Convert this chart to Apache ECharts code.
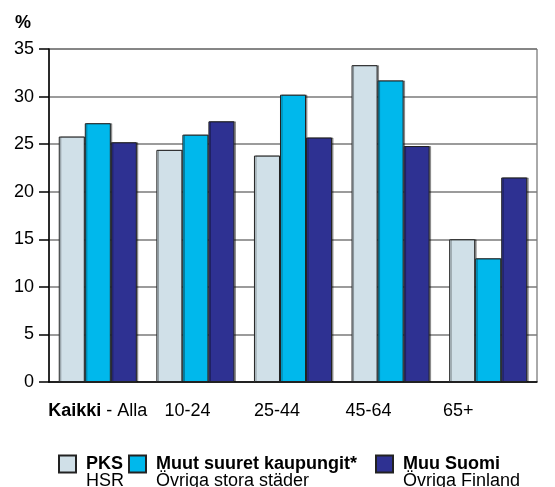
<!DOCTYPE html>
<html>
<head>
<meta charset="utf-8">
<script src="https://cdn.jsdelivr.net/npm/echarts@6/dist/echarts.min.js"></script>
<style>
  html, body { margin: 0; padding: 0; background: #fff; }
  #chart { width: 555px; height: 487px; }
</style>
</head>
<body>
<div id="chart"></div>
<script>
// data
const categories = ["Kaikki - Alla", "10-24", "25-44", "45-64", "65+"];
const seriesNames = ["PKS", "Muut suuret kaupungit*", "Muu Suomi"];
const seriesSubNames = ["HSR", "Övriga stora städer", "Övriga Finland"];
const pks = [25.8, 24.4, 23.8, 33.3, 15.0];
const muutSuuret = [27.2, 26.0, 30.2, 31.7, 13.0];
const muuSuomi = [25.2, 27.4, 25.7, 24.8, 21.5];
const yTicks = [0, 5, 10, 15, 20, 25, 30, 35];

const FONT = "Liberation Sans, Arial, sans-serif";
const FS = 18;
const colors = ["#d0e0e8", "#00b8ec", "#2e3192"];
// the x labels in the original drift left of the bar groups
const labelPad = [0, 16, 32, 44, 60];
const legendLeft = [58, 128, 375];

const chart = echarts.init(document.getElementById("chart"));

const barStyle = (c) => ({
	color: c,
	borderColor: "#222",
	borderWidth: 1,
	shadowColor: "rgba(0,0,0,0.35)",
	shadowOffsetX: 1.5,
	shadowOffsetY: 0,
	shadowBlur: 0
});

const seriesData = [pks, muutSuuret, muuSuomi];

const xRich = {};
labelPad.forEach((p, i) => {
	xRich["n" + i] = { fontSize: FS, fontFamily: FONT, color: "#000", padding: [0, p, 0, 0] };
});
xRich.b = { fontSize: FS, fontFamily: FONT, color: "#000", fontWeight: "bold" };
xRich.r = { fontSize: FS, fontFamily: FONT, color: "#000" };

const legends = seriesNames.map((name, i) => ({
	data: [name],
	left: legendLeft[i],
	top: 438,
	padding: 0,
	icon: "rect",
	itemWidth: 17,
	itemHeight: 17,
	selectedMode: false,
	formatter: (n) => "{s| }\n{b|" + n + "}\n{r|" + seriesSubNames[seriesNames.indexOf(n)] + "}",
	textStyle: {
		rich: {
			s: { fontSize: FS, lineHeight: 17, fontFamily: FONT },
			b: { fontSize: FS, lineHeight: 17, fontFamily: FONT, fontWeight: "bold", color: "#000", padding: [0, 0, 0, 5] },
			r: { fontSize: FS, lineHeight: 17, fontFamily: FONT, color: "#000", padding: [0, 0, 0, 5] }
		}
	}
}));

chart.setOption({
	animation: false,
	backgroundColor: "#fff",
	title: {
		text: "%",
		left: 10,
		top: 9,
		textStyle: { fontSize: FS, fontWeight: "bold", fontFamily: FONT, color: "#000" }
	},
	legend: legends,
	grid: {
		left: 49, right: 18, top: 49, bottom: 105,
		show: true,
		borderColor: "#555",
		borderWidth: 1,
		backgroundColor: "transparent"
	},
	xAxis: {
		type: "category",
		data: categories,
		axisLine: { lineStyle: { color: "#000", width: 1.5 } },
		axisTick: { show: false },
		axisLabel: {
			margin: 20,
			interval: 0,
			formatter: (v, idx) => {
				if (v.startsWith("Kaikki")) {
					return "{b|Kaikki}{r|" + v.slice(6) + "}";
				}
				return "{n" + idx + "|" + v + "}";
			},
			rich: xRich
		}
	},
	yAxis: {
		type: "value",
		min: yTicks[0],
		max: yTicks[yTicks.length - 1],
		interval: yTicks[1] - yTicks[0],
		axisLine: { show: true, lineStyle: { color: "#000", width: 1.5 } },
		axisTick: { show: true, length: 10, lineStyle: { color: "#000", width: 1.5 } },
		axisLabel: { margin: 15, fontSize: FS, fontFamily: FONT, color: "#000" },
		splitLine: { show: true, lineStyle: { color: "#7a7a7a", width: 1.5 } }
	},
	series: seriesNames.map((name, i) => ({
		name: name,
		type: "bar",
		data: seriesData[i],
		barGap: "0%",
		barCategoryGap: "20%",
		itemStyle: barStyle(colors[i])
	}))
});
</script>
</body>
</html>
